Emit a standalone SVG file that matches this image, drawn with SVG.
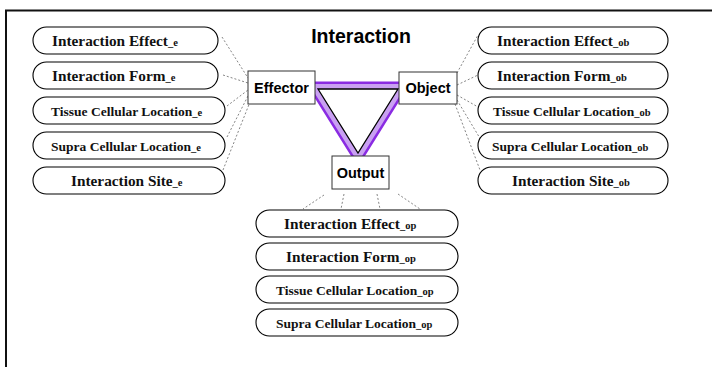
<svg xmlns="http://www.w3.org/2000/svg" width="712" height="367" viewBox="0 0 712 367">
  <defs>
    <style>
      .frame { fill: none; stroke: #111; stroke-width: 2; }
      .oval { fill: #fff; stroke: #000; stroke-width: 1.1; }
      .otxt { font-family: "Liberation Serif", "Times New Roman", serif; font-weight: bold; fill: #111; }
      .big { font-size: 15.3px; }
      .small { font-size: 13.5px; }
      .sub { font-size: 10.5px; }
      .box { fill: #fff; stroke: #333; stroke-width: 1; }
      .btxt { font-family: "Liberation Sans", Arial, sans-serif; font-weight: bold; font-size: 14.5px; fill: #000; text-anchor: middle; }
      .title { font-family: "Liberation Sans", Arial, sans-serif; font-weight: bold; font-size: 19.5px; fill: #000; text-anchor: middle; }
      .dash { stroke: #666; stroke-width: 0.8; stroke-dasharray: 2 2; fill: none; }
    </style>
  </defs>

  <rect width="712" height="367" fill="#fff"/>
  <!-- page frame, clipped at the right and bottom edges -->
  <path class="frame" d="M6,367 V10.5 H712"/>

  <text class="title" x="361" y="43">Interaction</text>

  <!-- dashed connectors -->
  <g id="connectors">
    <line class="dash" x1="222" y1="37" x2="248" y2="78"/>
    <line class="dash" x1="223" y1="75" x2="248" y2="83"/>
    <line class="dash" x1="227" y1="106" x2="248" y2="90"/>
    <line class="dash" x1="227" y1="137" x2="248" y2="96"/>
    <line class="dash" x1="223" y1="170" x2="250" y2="102"/>

    <line class="dash" x1="457" y1="73" x2="478" y2="35"/>
    <line class="dash" x1="457" y1="85" x2="478" y2="75"/>
    <line class="dash" x1="457" y1="95" x2="478" y2="107"/>
    <line class="dash" x1="457" y1="100" x2="481" y2="140"/>
    <line class="dash" x1="455" y1="104" x2="480" y2="170"/>

    <line class="dash" x1="324" y1="195" x2="303" y2="209"/>
    <line class="dash" x1="344" y1="194" x2="341" y2="209"/>
    <line class="dash" x1="377" y1="194" x2="380" y2="209"/>
    <line class="dash" x1="398" y1="194" x2="420" y2="209"/>
  </g>

  <!-- triangle linking the three roles -->
  <g id="triangle">
    <path d="M318,89 H398 L358,153 Z" fill="none" stroke="#8a2be2" stroke-width="15" stroke-linejoin="miter"/>
    <path d="M318,89 H398 L358,153 Z" fill="none" stroke="#c9a0f2" stroke-width="10" stroke-linejoin="miter"/>
    <path d="M318,89 H398 L358,153 Z" fill="#fff" stroke="#000" stroke-width="1.3"/>
  </g>

  <!-- effector attributes -->
  <g id="effect-e"><rect class="oval" x="33" y="27" width="185" height="27" rx="13.5"/>
    <text class="otxt big" x="52" y="45.5">Interaction Effect<tspan class="sub">_e</tspan></text></g>
  <g id="form-e"><rect class="oval" x="33" y="62" width="185" height="27" rx="13.5"/>
    <text class="otxt big" x="52" y="80.5">Interaction Form<tspan class="sub">_e</tspan></text></g>
  <g id="tissue-e"><rect class="oval" x="33" y="97" width="192" height="27" rx="13.5"/>
    <text class="otxt small" x="51" y="115.5">Tissue Cellular Location<tspan class="sub">_e</tspan></text></g>
  <g id="supra-e"><rect class="oval" x="33" y="132" width="192" height="27" rx="13.5"/>
    <text class="otxt small" x="51" y="150.5">Supra Cellular Location<tspan class="sub">_e</tspan></text></g>
  <g id="site-e"><rect class="oval" x="33" y="167" width="192" height="27" rx="13.5"/>
    <text class="otxt big" x="71" y="185.5">Interaction Site<tspan class="sub">_e</tspan></text></g>

  <!-- object attributes -->
  <g id="effect-ob"><rect class="oval" x="478" y="27" width="190" height="27" rx="13.5"/>
    <text class="otxt big" x="497" y="45.5">Interaction Effect<tspan class="sub">_ob</tspan></text></g>
  <g id="form-ob"><rect class="oval" x="478" y="62" width="190" height="27" rx="13.5"/>
    <text class="otxt big" x="497" y="80.5">Interaction Form<tspan class="sub">_ob</tspan></text></g>
  <g id="tissue-ob"><rect class="oval" x="478" y="97" width="190" height="27" rx="13.5"/>
    <text class="otxt small" x="493" y="115.5">Tissue Cellular Location<tspan class="sub">_ob</tspan></text></g>
  <g id="supra-ob"><rect class="oval" x="478" y="132" width="190" height="27" rx="13.5"/>
    <text class="otxt small" x="492" y="150.5">Supra Cellular Location<tspan class="sub">_ob</tspan></text></g>
  <g id="site-ob"><rect class="oval" x="478" y="167" width="190" height="27" rx="13.5"/>
    <text class="otxt big" x="512" y="185.5">Interaction Site<tspan class="sub">_ob</tspan></text></g>

  <!-- output attributes -->
  <g id="effect-op"><rect class="oval" x="256" y="210" width="202" height="27" rx="13.5"/>
    <text class="otxt big" x="284" y="228.5">Interaction Effect<tspan class="sub">_op</tspan></text></g>
  <g id="form-op"><rect class="oval" x="256" y="243" width="202" height="27" rx="13.5"/>
    <text class="otxt big" x="286" y="261.5">Interaction Form<tspan class="sub">_op</tspan></text></g>
  <g id="tissue-op"><rect class="oval" x="256" y="276" width="202" height="27" rx="13.5"/>
    <text class="otxt small" x="276" y="294.5">Tissue Cellular Location<tspan class="sub">_op</tspan></text></g>
  <g id="supra-op"><rect class="oval" x="256" y="309" width="202" height="27" rx="13.5"/>
    <text class="otxt small" x="276" y="327.5">Supra Cellular Location<tspan class="sub">_op</tspan></text></g>

  <!-- role boxes -->
  <g id="effector"><rect class="box" x="248" y="71" width="67" height="33"/>
    <text class="btxt" x="281.5" y="92.5">Effector</text></g>
  <g id="object"><rect class="box" x="399" y="72" width="58" height="32"/>
    <text class="btxt" x="428" y="93">Object</text></g>
  <g id="output"><rect class="box" x="332" y="156" width="57" height="33"/>
    <text class="btxt" x="360.5" y="177.5">Output</text></g>
</svg>
